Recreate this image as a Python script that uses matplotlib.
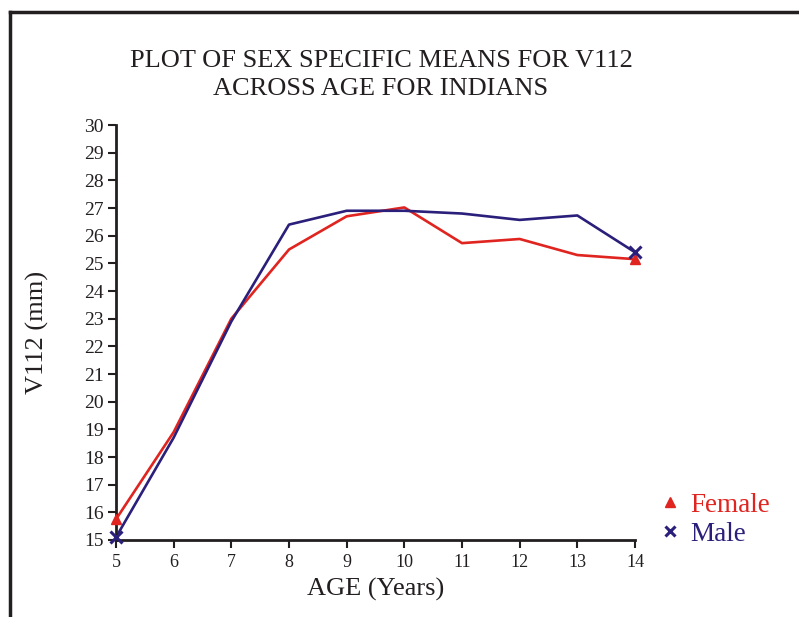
import matplotlib.pyplot as plt
from matplotlib.lines import Line2D

# === Daten ===
age = [5, 6, 7, 8, 9, 10, 11, 12, 13, 14]
female = [15.75, 18.9, 23.0, 25.5, 26.7, 27.02, 25.73, 25.88, 25.3, 25.15]
male = [15.1, 18.7, 22.9, 26.4, 26.9, 26.9, 26.8, 26.57, 26.73, 25.4]

red = '#e0241f'
navy = '#2a1f7a'
dark = '#231f20'

plt.rcParams['font.family'] = 'Liberation Serif'

fig = plt.figure(figsize=(7.99, 6.17), dpi=100)
ax = fig.add_axes([116 / 799, 77 / 617, 519 / 799, 415 / 617])

ax.plot(age, female, color=red, lw=1.9)
ax.plot(age, male, color=navy, lw=1.9)
# Marker nur an den Endpunkten
ax.plot([age[0], age[-1]], [female[0], female[-1]], linestyle='None', marker='^',
        color=red, markersize=7, clip_on=False, zorder=5)
ax.plot([age[0], age[-1]], [male[0], male[-1]], linestyle='None', marker='x',
        color=navy, markersize=8, markeredgewidth=2.2, clip_on=False, zorder=6)

ax.set_xlim(5, 14)
ax.set_ylim(15, 30)
ax.set_xticks(age)
ax.set_yticks(range(15, 31))
ax.spines['top'].set_visible(False)
ax.spines['right'].set_visible(False)
for s in ['left', 'bottom']:
    ax.spines[s].set_linewidth(2)
    ax.spines[s].set_color(dark)
ax.tick_params(direction='out', length=6, width=1.5, colors=dark)
ax.tick_params(axis='y', labelsize=14, pad=3)
ax.tick_params(axis='x', labelsize=13, pad=4)

ax.set_xlabel('AGE (Years)', fontsize=19, color=dark)
ax.xaxis.set_label_coords(0.5, -0.12)
ax.xaxis.label.set_va('center')
ax.set_ylabel('V112 (mm)', fontsize=19, color=dark)
ax.yaxis.set_label_coords(-0.152, 0.5)
ax.yaxis.label.set_va('center')

fig.text(381 / 799, 1 - 75 / 617, 'PLOT OF SEX SPECIFIC MEANS FOR V112\nACROSS AGE FOR INDIANS',
         ha='center', va='center', fontsize=19, color=dark, linespacing=1.4)

# Legende
handles = [Line2D([], [], linestyle='None', marker='^', color=red, markersize=7),
           Line2D([], [], linestyle='None', marker='x', color=navy, markersize=7, markeredgewidth=2.2)]
leg = fig.legend(handles, ['Female', 'Male'], loc='upper left', bbox_to_anchor=(651 / 799, 1 - 482 / 617),
                 frameon=False, fontsize=19.5, handlelength=0.6, handletextpad=0.45,
                 labelspacing=0.15, borderaxespad=0)
for txt, c in zip(leg.get_texts(), [red, navy]):
    txt.set_color(c)

# Rahmen links und oben
fig.add_artist(Line2D([10 / 799, 10 / 799], [0, 1 - 12 / 617], color=dark, lw=2.5))
fig.add_artist(Line2D([10 / 799, 1], [1 - 12 / 617, 1 - 12 / 617], color=dark, lw=2.5))

fig.savefig('out.png', dpi=100)
